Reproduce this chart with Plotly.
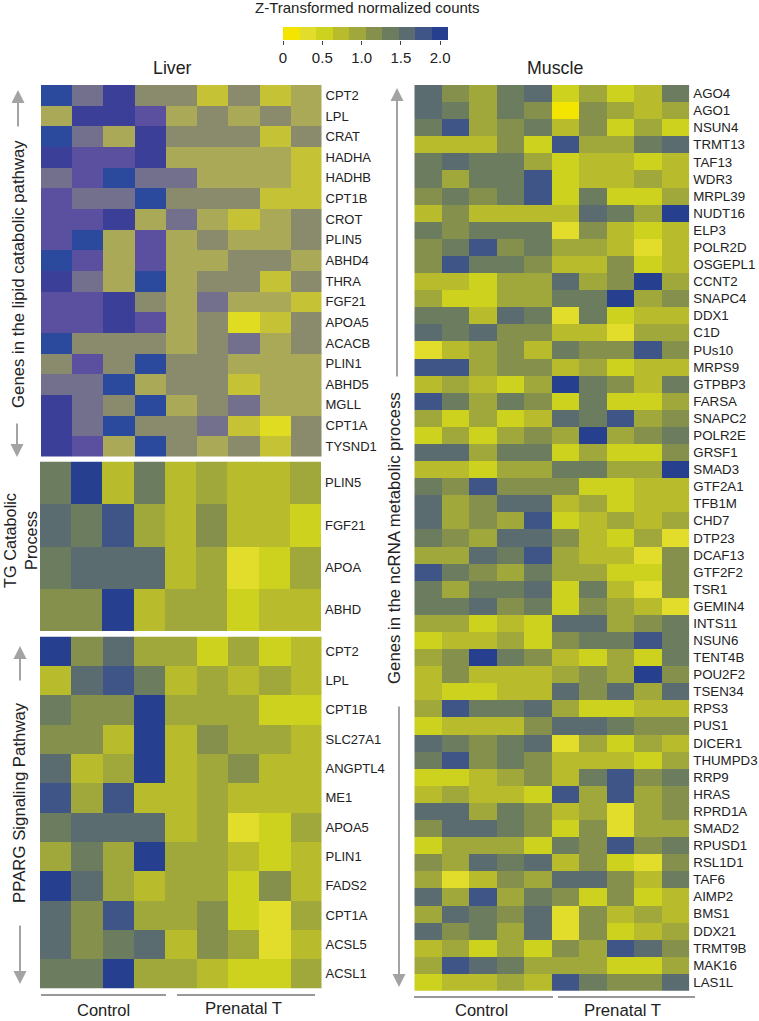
import plotly.graph_objects as go

W, H = 759, 1021

# Colour-bin values: every cell is one of ten bins of width BIN_WIDTH (z units)
BIN_WIDTH = 0.21
BAR_BINS = [0, 1, 2, 3, 4, 5, 6, 7, 8, 9]
BAR_TICKS = [0, 0.5, 1.0, 1.5, 2.0]
BAR_TICK_TEXT = ["0", "0.5", "1.0", "1.5", "2.0"]

COLORS = ["#f4e500", "#e2dc2a", "#ccd21e", "#b8bb2b", "#a0a83c",
          "#84904c", "#6c7c5e", "#5a6c70", "#3f5588", "#26408f"]
LIPID_COLORS = ["#e0dc22", "#d4d02c", "#c6c235", "#aaa958", "#9a9a62",
                "#8a8b6c", "#72708c", "#5b4fa0", "#3b3f98", "#2b4a9e"]

SAMPLES_LIVER = ["C1", "C2", "C3", "C4", "T1", "T2", "T3", "T4", "T5"]
SAMPLES_MUSCLE = ["C1", "C2", "C3", "C4", "C5", "T1", "T2", "T3", "T4", "T5"]

LIPID_GENES = ["CPT2", "LPL", "CRAT", "HADHA", "HADHB", "CPT1B", "CROT", "PLIN5", "ABHD4",
               "THRA", "FGF21", "APOA5", "ACACB", "PLIN1", "ABHD5", "MGLL", "CPT1A", "TYSND1"]
LIPID_BINS = [
    [9, 6, 8, 5, 5, 2, 5, 2, 3],
    [3, 8, 8, 7, 3, 5, 3, 5, 3],
    [9, 6, 3, 8, 5, 5, 5, 2, 5],
    [8, 7, 7, 8, 3, 3, 3, 3, 2],
    [6, 7, 9, 6, 6, 3, 3, 3, 2],
    [7, 6, 6, 9, 5, 5, 5, 2, 2],
    [7, 7, 8, 3, 6, 3, 2, 3, 5],
    [7, 9, 3, 7, 3, 5, 3, 3, 5],
    [9, 7, 3, 7, 3, 3, 5, 5, 3],
    [8, 6, 3, 9, 3, 5, 5, 2, 5],
    [7, 7, 8, 5, 3, 6, 3, 3, 2],
    [7, 7, 8, 7, 3, 5, 0, 2, 5],
    [9, 5, 5, 5, 3, 5, 6, 3, 5],
    [5, 7, 5, 9, 5, 5, 3, 3, 3],
    [6, 6, 9, 3, 5, 5, 2, 3, 3],
    [8, 6, 5, 9, 3, 5, 6, 3, 3],
    [8, 6, 9, 5, 5, 6, 2, 0, 5],
    [8, 7, 3, 9, 5, 3, 5, 2, 5],
]

TG_GENES = ["PLIN5", "FGF21", "APOA", "ABHD"]
TG_BINS = [
    [6, 9, 3, 6, 3, 4, 3, 3, 4],
    [7, 6, 8, 4, 3, 5, 3, 3, 2],
    [6, 7, 7, 7, 3, 4, 1, 2, 4],
    [5, 5, 9, 3, 4, 4, 2, 3, 3],
]

PPARG_GENES = ["CPT2", "LPL", "CPT1B", "SLC27A1", "ANGPTL4", "ME1", "APOA5", "PLIN1",
               "FADS2", "CPT1A", "ACSL5", "ACSL1"]
PPARG_BINS = [
    [9, 5, 7, 4, 4, 2, 4, 2, 3],
    [3, 7, 8, 6, 3, 4, 3, 4, 3],
    [6, 5, 5, 9, 4, 4, 4, 2, 2],
    [5, 5, 3, 9, 3, 5, 4, 4, 3],
    [7, 3, 4, 9, 3, 4, 5, 3, 3],
    [8, 4, 8, 3, 3, 4, 3, 3, 3],
    [6, 7, 7, 7, 3, 4, 1, 2, 4],
    [4, 6, 4, 9, 4, 4, 3, 2, 3],
    [9, 7, 4, 3, 4, 4, 2, 5, 3],
    [7, 5, 8, 4, 4, 5, 2, 1, 4],
    [7, 5, 6, 7, 3, 5, 4, 1, 3],
    [6, 6, 9, 4, 4, 3, 2, 2, 4],
]

MUSCLE_GENES = ["AGO4", "AGO1", "NSUN4", "TRMT13", "TAF13", "WDR3", "MRPL39", "NUDT16", "ELP3",
                "POLR2D", "OSGEPL1", "CCNT2", "SNAPC4", "DDX1", "C1D", "PUs10", "MRPS9", "GTPBP3",
                "FARSA", "SNAPC2", "POLR2E", "GRSF1", "SMAD3", "GTF2A1", "TFB1M", "CHD7", "DTP23",
                "DCAF13", "GTF2F2", "TSR1", "GEMIN4", "INTS11", "NSUN6", "TENT4B", "POU2F2", "TSEN34",
                "RPS3", "PUS1", "DICER1", "THUMPD3", "RRP9", "HRAS", "RPRD1A", "SMAD2", "RPUSD1",
                "RSL1D1", "TAF6", "AIMP2", "BMS1", "DDX21", "TRMT9B", "MAK16", "LAS1L"]
MUSCLE_BINS = [
    [7, 5, 4, 6, 7, 2, 4, 2, 3, 6],
    [7, 6, 4, 6, 5, 0, 5, 4, 3, 4],
    [6, 8, 4, 5, 6, 3, 5, 2, 4, 2],
    [3, 3, 3, 5, 2, 8, 4, 4, 6, 7],
    [6, 7, 6, 6, 4, 2, 3, 3, 2, 3],
    [6, 4, 6, 6, 8, 2, 3, 3, 4, 3],
    [5, 6, 5, 6, 8, 2, 6, 2, 2, 4],
    [3, 5, 3, 3, 3, 3, 7, 6, 4, 9],
    [6, 5, 6, 6, 6, 1, 5, 3, 2, 3],
    [5, 6, 8, 5, 6, 4, 4, 3, 1, 3],
    [5, 8, 6, 6, 5, 3, 3, 5, 2, 3],
    [3, 3, 2, 4, 4, 7, 4, 5, 9, 4],
    [4, 2, 2, 4, 4, 6, 6, 9, 4, 5],
    [6, 6, 3, 7, 6, 1, 6, 2, 3, 3],
    [7, 6, 7, 5, 5, 3, 3, 1, 4, 4],
    [1, 3, 4, 5, 3, 6, 5, 5, 8, 5],
    [8, 8, 4, 5, 5, 3, 4, 2, 3, 3],
    [3, 4, 3, 2, 4, 9, 6, 5, 3, 6],
    [8, 6, 4, 6, 5, 2, 6, 2, 2, 4],
    [4, 2, 4, 2, 3, 7, 6, 8, 4, 5],
    [2, 4, 2, 4, 5, 4, 9, 4, 5, 6],
    [7, 7, 4, 6, 6, 2, 4, 2, 2, 5],
    [3, 3, 2, 4, 4, 6, 6, 4, 4, 9],
    [6, 5, 8, 5, 5, 5, 2, 2, 3, 3],
    [7, 4, 5, 7, 7, 3, 4, 2, 3, 3],
    [7, 4, 5, 4, 8, 2, 3, 4, 3, 4],
    [6, 5, 4, 7, 7, 5, 3, 2, 4, 1],
    [4, 4, 7, 6, 8, 4, 3, 3, 1, 5],
    [8, 6, 5, 4, 6, 4, 4, 2, 2, 5],
    [6, 4, 6, 6, 7, 2, 6, 3, 1, 5],
    [6, 6, 7, 5, 6, 2, 5, 4, 3, 1],
    [4, 4, 2, 3, 2, 7, 7, 4, 5, 6],
    [2, 3, 3, 4, 2, 5, 6, 6, 8, 6],
    [4, 5, 9, 6, 5, 3, 2, 4, 2, 6],
    [3, 5, 3, 3, 3, 4, 5, 4, 9, 5],
    [3, 2, 2, 3, 3, 7, 5, 7, 4, 7],
    [4, 8, 6, 6, 7, 4, 2, 2, 3, 3],
    [2, 3, 3, 3, 5, 7, 7, 6, 5, 5],
    [7, 6, 5, 6, 7, 1, 4, 2, 4, 3],
    [6, 8, 5, 6, 5, 3, 3, 3, 2, 4],
    [2, 2, 3, 4, 5, 3, 6, 8, 5, 6],
    [3, 4, 3, 3, 2, 8, 4, 8, 4, 5],
    [7, 7, 4, 6, 5, 3, 4, 1, 4, 5],
    [5, 7, 7, 6, 5, 2, 5, 1, 4, 4],
    [2, 4, 4, 4, 2, 6, 5, 8, 5, 6],
    [5, 4, 7, 6, 7, 3, 5, 2, 1, 5],
    [4, 1, 3, 5, 4, 7, 7, 5, 3, 6],
    [7, 4, 8, 4, 6, 5, 2, 5, 2, 3],
    [4, 7, 6, 5, 7, 1, 5, 3, 4, 3],
    [7, 5, 6, 4, 7, 1, 5, 2, 3, 4],
    [3, 4, 2, 4, 2, 5, 4, 8, 7, 5],
    [4, 8, 7, 6, 4, 4, 4, 2, 2, 4],
    [2, 3, 3, 4, 3, 8, 6, 5, 5, 7],
]

FONT = "Liberation Sans, Arial, sans-serif"
TEXT = "#222222"
GRAY = "#a3a3a3"


def px(x):
    return x / W


def py(y):
    return 1 - y / H


def stepped(colors):
    n = len(colors)
    scale = []
    for i, c in enumerate(colors):
        scale += [[i / n, c], [(i + 1) / n, c]]
    return scale


def to_z(rows):
    return [[(b + 0.5) * BIN_WIDTH for b in row] for row in rows]


fig = go.Figure()
layout = dict(
    width=W, height=H, autosize=False,
    margin=dict(l=0, r=0, t=0, b=0, pad=0, autoexpand=False),
    paper_bgcolor="white", plot_bgcolor="white",
    font=dict(family=FONT, color=TEXT, size=13),
    showlegend=False,
)

ZMAX = BIN_WIDTH * len(BAR_BINS)


def panel(idx, samples, genes, rows, colors, box, label_size):
    x0, x1, y0, y1 = box
    fig.add_trace(go.Heatmap(
        z=to_z(rows), x=samples, y=genes, xaxis=f"x{idx}", yaxis=f"y{idx}",
        colorscale=stepped(colors), zmin=0, zmax=ZMAX, showscale=False, hoverongaps=False,
    ))
    layout[f"xaxis{idx}"] = dict(domain=[px(x0), px(x1)], anchor=f"y{idx}", visible=False,
                                 showgrid=False, zeroline=False)
    layout[f"yaxis{idx}"] = dict(domain=[py(y1), py(y0)], anchor=f"x{idx}", side="right",
                                 autorange="reversed", showgrid=False, zeroline=False,
                                 showline=False, ticks="", tickmode="array", tickvals=genes,
                                 ticktext=genes, tickfont=dict(size=label_size, color=TEXT),
                                 ticklabelstandoff=3)


panel(1, SAMPLES_LIVER, LIPID_GENES, LIPID_BINS, LIPID_COLORS, (41, 321.5, 85, 456.5), 13)
panel(2, SAMPLES_LIVER, TG_GENES, TG_BINS, COLORS, (40, 321, 461.5, 631), 13)
panel(3, SAMPLES_LIVER, PPARG_GENES, PPARG_BINS, COLORS, (40, 321.5, 636.5, 988.5), 13)
panel(4, SAMPLES_MUSCLE, MUSCLE_GENES, MUSCLE_BINS, COLORS, (414.3, 689.3, 85, 990.7), 13.3)

# Colour key
fig.add_trace(go.Heatmap(
    z=[to_z([BAR_BINS])[0]], x=[(b + 0.5) * BIN_WIDTH for b in BAR_BINS], y=["key"],
    xaxis="x5", yaxis="y5", colorscale=stepped(COLORS), zmin=0, zmax=ZMAX, showscale=False,
))
layout["xaxis5"] = dict(domain=[px(283), px(448)], anchor="y5", range=[0, ZMAX], showgrid=False,
                        zeroline=False, showline=False, ticks="outside", ticklen=4, tickwidth=1,
                        tickcolor="#444444", tickmode="array", tickvals=BAR_TICKS,
                        ticktext=BAR_TICK_TEXT, tickfont=dict(size=15, color=TEXT))
layout["yaxis5"] = dict(domain=[py(40), py(27)], anchor="x5", visible=False)

ann = []


def text(x, y, s, size=16, angle=0):
    ann.append(dict(x=px(x), y=py(y), xref="paper", yref="paper", text=s, showarrow=False,
                    textangle=angle, font=dict(size=size, color=TEXT, family=FONT),
                    xanchor="center", yanchor="middle", align="center"))


def arrow(x, y_tail, y_head):
    ann.append(dict(x=px(x), y=py(y_head), ax=0, ay=y_tail - y_head, xref="paper", yref="paper",
                    axref="pixel", ayref="pixel", text="", showarrow=True, arrowhead=2,
                    arrowsize=1.3, arrowwidth=2, arrowcolor=GRAY))


text(367, 8, "Z-Transformed normalized counts", 15)
text(172, 68, "Liver", 17.8)
text(555, 68, "Muscle", 17.8)
text(18, 274, "Genes in the lipid catabolic pathway", 16.8, -90)
text(20, 541, "TG Catabolic<br>Process", 16.3, -90)
text(19, 803, "PPARG Signaling Pathway", 16.8, -90)
text(394, 538, "Genes in the ncRNA metabolic process", 16.8, -90)
text(103, 1010, "Control", 16.5)
text(243, 1008, "Prenatal T", 16.8)
text(481, 1010, "Control", 16.5)
text(622, 1010, "Prenatal T", 16.8)

arrow(18, 128, 90)
arrow(17, 422, 457)
arrow(20, 682, 646)
arrow(20, 924, 984)
arrow(397, 378, 88)
arrow(399, 705, 987)
layout["annotations"] = ann

shapes = []
for x0, x1, y in [(41, 166, 995), (177, 315, 995), (414, 553, 997), (558, 695, 997)]:
    shapes.append(dict(type="line", xref="paper", yref="paper", x0=px(x0), x1=px(x1),
                       y0=py(y), y1=py(y), line=dict(color="#333333", width=1)))
layout["shapes"] = shapes

fig.update_layout(**layout)
fig.write_html("out.html", config={"displayModeBar": False},
               post_script="document.body.style.margin='0';")
